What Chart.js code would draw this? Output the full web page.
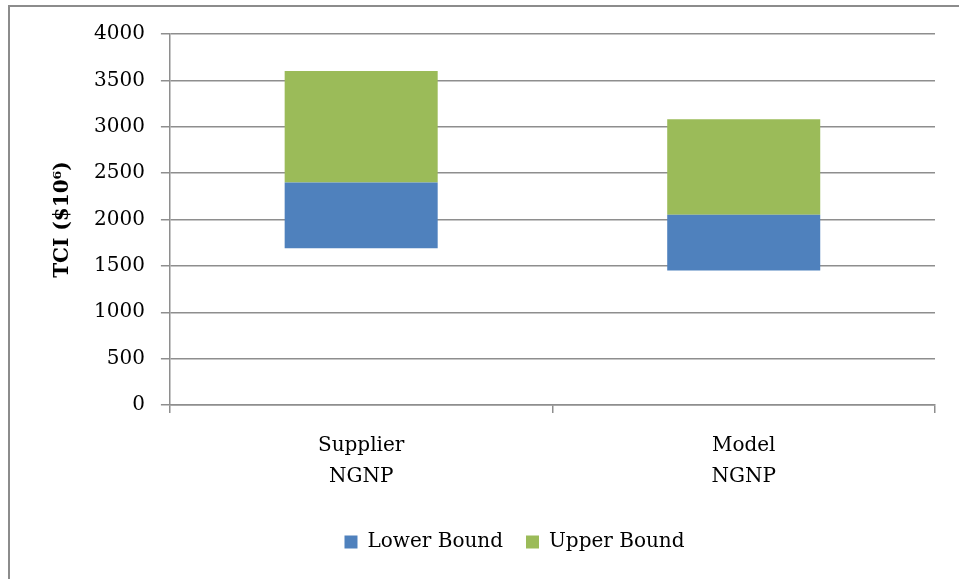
<!DOCTYPE html>
<html>
<head>
<meta charset="utf-8">
<script src="https://cdn.jsdelivr.net/npm/chart.js@4/dist/chart.umd.min.js"></script>
<style>
  html, body { margin: 0; padding: 0; background: #fff; overflow: hidden; }
  #frame { position: absolute; left: 8px; top: 5px; width: 1040px; height: 600px; border: 2px solid #8c8c8c; }
  #wrap { position: absolute; left: 0; top: 0; width: 978px; height: 579px; }
</style>
</head>
<body>
<div id="frame"></div>
<div id="wrap"><canvas id="chart"></canvas></div>
<script>
const categories = [["Supplier", "NGNP"], ["Model", "NGNP"]];
const lowerStart = [1690, 1450];
const lowerEnd = [2400, 2050];
const upperEnd = [3600, 3080];
const yTicks = [0, 500, 1000, 1500, 2000, 2500, 3000, 3500, 4000];

const serif = "'DejaVu Serif', serif";
const gridColor = "#8e8e8e";

// floating bars: each segment is a [from, to] pair on the same slot
const lowerBars = lowerStart.map((v, i) => [v, lowerEnd[i]]);
const upperBars = lowerEnd.map((v, i) => [v, upperEnd[i]]);

new Chart(document.getElementById("chart"), {
    type: "bar",
    data: {
        labels: categories,
        datasets: [
            {
                label: "Lower Bound",
                data: lowerBars,
                backgroundColor: "#4F81BD",
                grouped: false,
                barPercentage: 0.4,
                categoryPercentage: 1
            },
            {
                label: "Upper Bound",
                data: upperBars,
                backgroundColor: "#9BBB59",
                grouped: false,
                barPercentage: 0.4,
                categoryPercentage: 1
            }
        ]
    },
    options: {
        responsive: true,
        maintainAspectRatio: false,
        animation: false,
        layout: { padding: { left: 51, right: 0, top: 34, bottom: 17 } },
        plugins: {
            tooltip: { enabled: false },
            legend: {
                position: "bottom",
                labels: {
                    boxWidth: 13,
                    boxHeight: 13,
                    padding: 23,
                    color: "#000",
                    font: { family: serif, size: 20 }
                }
            }
        },
        scales: {
            x: {
                offset: true,
                grid: { offset: true, drawOnChartArea: false, tickLength: 8, color: gridColor, lineWidth: 1.5 },
                border: { color: gridColor, width: 1.5 },
                ticks: { color: "#000", padding: 17, font: { family: serif, size: 20, lineHeight: 1.55 } }
            },
            y: {
                min: 0,
                max: 4000,
                afterBuildTicks: s => { s.ticks = yTicks.map(v => ({ value: v })); },
                grid: { tickLength: 9, color: gridColor, lineWidth: 1.5 },
                border: { color: gridColor, width: 1.5 },
                ticks: {
                    color: "#000",
                    padding: 16,
                    font: { family: serif, size: 20 },
                    callback: v => String(v)
                },
                title: {
                    display: true,
                    text: "TCI ($10\u2076)",
                    color: "#000",
                    padding: { top: 0, bottom: 3 },
                    font: { family: serif, size: 20, weight: "bold" }
                }
            },
            // empty right gutter so the legend sits under the full frame
            gutter: {
                type: "linear",
                position: "right",
                grid: { display: false },
                border: { display: false },
                ticks: { display: false },
                afterFit: s => { s.width = 43; }
            }
        }
    }
});
</script>
</body>
</html>
